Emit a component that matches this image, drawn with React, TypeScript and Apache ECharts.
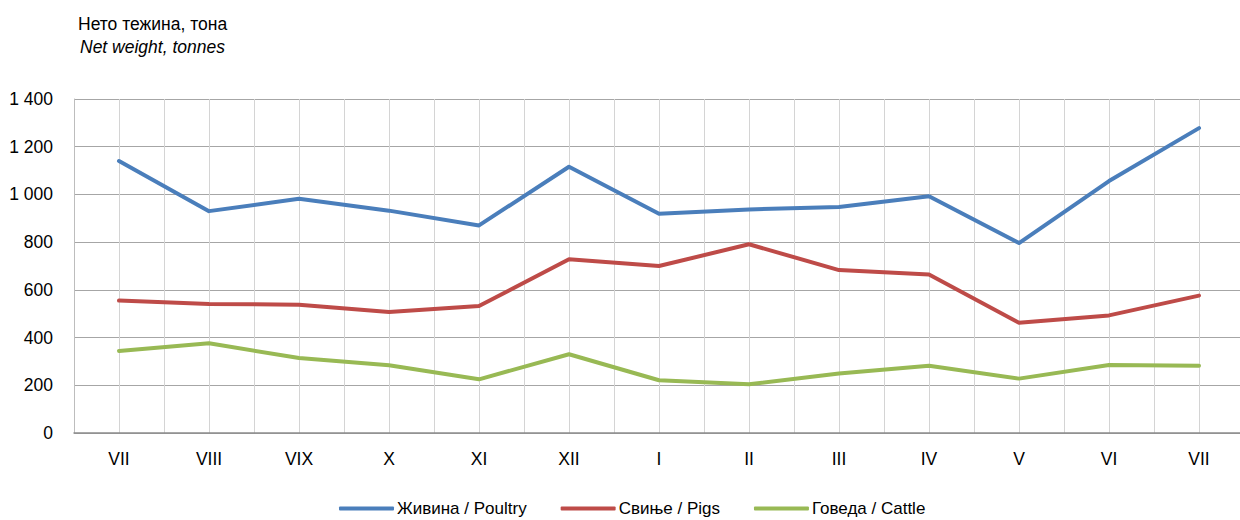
import React, { useEffect, useRef } from "react";
import * as echarts from "echarts";

const categories = ["VII", "VIII", "VIX", "X", "XI", "XII", "I", "II", "III", "IV", "V", "VI", "VII"];
const poultry = [1140, 930, 982, 932, 870, 1116, 919, 937, 947, 992, 796, 1056, 1278];
const pigs = [555, 541, 538, 507, 532, 728, 700, 791, 683, 664, 462, 493, 576];
const cattle = [344, 376, 314, 284, 225, 330, 221, 204, 249, 282, 228, 285, 282];
const seriesNames = ["Живина / Poultry", "Свиње / Pigs", "Говеда / Cattle"];
const seriesColors = ["#4A7EBB", "#BE4B48", "#98B954"];
const yTicks = { min: 0, max: 1400, interval: 200 };
const titleLine1 = "Нето тежина, тона";
const titleLine2 = "Net weight, tonnes";

const FONT = "'Liberation Sans', Arial, sans-serif";

export default function App() {
  const ref = useRef<HTMLDivElement>(null);
  useEffect(() => {
    if (!ref.current) return;
    const chart = echarts.init(ref.current, undefined, { renderer: "svg" });
    const data = [poultry, pigs, cattle];
    chart.setOption({
      animation: false,
      backgroundColor: "#ffffff",
      textStyle: { fontFamily: FONT },
      graphic: [
        {
          type: "text",
          left: 78,
          top: 15,
          style: { text: titleLine1, font: `17.5px ${FONT}`, fill: "#000" },
        },
        {
          type: "text",
          left: 80,
          top: 38,
          style: { text: titleLine2, font: `italic 17.5px ${FONT}`, fill: "#000" },
        },
      ],
      grid: { left: 74, right: 6, top: 99, bottom: 87, containLabel: false },
      legend: {
        left: 334,
        top: 495,
        itemWidth: 55,
        itemHeight: 4,
        itemGap: 34,
        icon: "roundRect",
        textStyle: { fontFamily: FONT, fontSize: 17, color: "#000", padding: [0, 0, 0, -2] },
        data: seriesNames,
      },
      xAxis: [
        {
          type: "category",
          data: categories,
          boundaryGap: true,
          axisTick: { show: false },
          axisLine: { show: true, lineStyle: { color: "#8c8c8c", width: 1.5 } },
          axisLabel: { fontFamily: FONT, fontSize: 17.5, color: "#000", margin: 17 },
          splitLine: { show: false },
        },
        {
          type: "value",
          min: 0,
          max: 26,
          interval: 1,
          position: "top",
          axisLabel: { show: false },
          axisTick: { show: false },
          axisLine: { show: false },
          splitLine: { show: true, lineStyle: { color: "#d4d4d4", width: 1 } },
        },
      ],
      yAxis: {
        type: "value",
        min: yTicks.min,
        max: yTicks.max,
        interval: yTicks.interval,
        axisLine: { show: true, lineStyle: { color: "#bdbdbd", width: 1 } },
        axisTick: { show: false },
        axisLabel: {
          fontFamily: FONT,
          fontSize: 17.5,
          color: "#000",
          margin: 21,
          formatter: (v: number) => String(v).replace(/\B(?=(\d{3})+(?!\d))/g, " "),
        },
        splitLine: { show: true, lineStyle: { color: "#a6a6a6", width: 1 } },
      },
      series: seriesNames.map((name, i) => ({
        name,
        type: "line",
        xAxisIndex: 0,
        data: data[i],
        symbol: "none",
        showSymbol: false,
        color: seriesColors[i],
        lineStyle: { color: seriesColors[i], width: 4, cap: "round", join: "round" },
        z: 3 + i,
      })),
    });
    return () => chart.dispose();
  }, []);
  return (
    <div
      ref={ref}
      style={{ position: "fixed", left: 0, top: 0, width: 1250, height: 520 }}
    />
  );
}
